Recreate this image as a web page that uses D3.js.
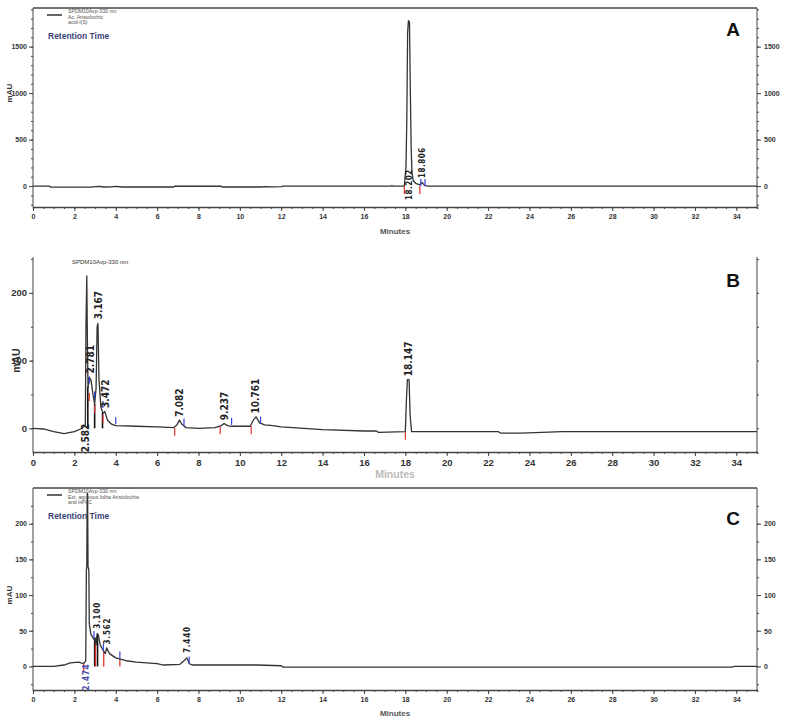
<!DOCTYPE html>
<html lang="en">
<head>
    <meta charset="UTF-8">
    <title>HPLC chromatograms</title>
    <script src="https://d3js.org/d3.v7.min.js"></script>
    <style>
        body { margin: 0; background: #fff; }
        svg { display: block; }
        .tk text { font-family: "Liberation Sans", Arial, sans-serif; font-weight: bold; fill: #333; }
        .tk path, .tk line { stroke: #444; }
        .pk { font-family: "Liberation Sans Narrow", "DejaVu Sans Condensed", "Liberation Sans", sans-serif; font-weight: bold; }
    </style>
</head>
<body>
<div id="chart"></div>
<script>
// --- data (minutes, mAU) ---
const xTicks = [0, 2, 4, 6, 8, 10, 12, 14, 16, 18, 20, 22, 24, 26, 28, 30, 32, 34];

const traceA = [[0,0],[0.8,0],[0.85,-12],[2.8,-12],[3.0,-5],[3.2,-3],[3.4,-10],[3.8,-8],[4.0,-3],[4.3,-10],
    [6.8,-10],[6.85,-2],[9.1,-2],[9.15,-10],[11.0,-10],[11.2,-5],[11.6,-8],[12.0,-5],[12.1,0],[17.3,0],[17.35,6],
    [17.4,0],[17.95,0],[18.03,200],[18.07,700],[18.11,1650],[18.15,1780],[18.2,1760],[18.24,1050],[18.28,420],
    [18.32,150],[18.38,60],[18.5,30],[18.7,12],[18.8,40],[18.86,25],[18.95,5],[19.1,0],[35,0]];
const yTicksA = [0, 500, 1000, 1500];
const peaksA = [
    {label: "18.202", t: 18.2, v: 0, pos: "across"},
    {label: "18.806", t: 18.8, v: 65, pos: "above"}
];
const startsA = [[17.95, 0], [18.7, 0]];
const endsA = [[18.75, 0], [18.95, 0]];

const traceB = [[0,0],[0.5,-1],[1,-5],[1.5,-8],[2.0,-5],[2.3,-1],[2.45,2],[2.53,4],[2.56,150],[2.6,225],[2.63,130],
    [2.66,60],[2.72,75],[2.8,72],[2.9,50],[2.98,36],[3.05,60],[3.1,150],[3.14,155],[3.19,72],[3.28,32],[3.38,22],
    [3.47,25],[3.6,12],[3.8,6],[4.0,4],[5,3],[6,2],[6.8,1],[6.95,5],[7.08,12],[7.2,6],[7.4,1],[8,0],[8.8,1],
    [9.1,4],[9.24,7],[9.4,4],[9.6,3],[10.5,3],[10.65,12],[10.78,17],[10.95,8],[11.2,5],[11.6,4],[12,2],[14,-2],
    [16,-4],[16.6,-4],[16.7,-6],[18.0,-5],[18.05,40],[18.1,72],[18.18,72],[18.23,20],[18.3,-5],[22.5,-5],
    [22.6,-7],[23.6,-7],[25.6,-5],[35,-5]];
const yTicksB = [0, 100, 200];
const peaksB = [
    {label: "2.582", t: 2.55, v: 0, pos: "below"},
    {label: "2.781", t: 2.76, v: 78, pos: "above"},
    {label: "3.167", t: 3.16, v: 158, pos: "above"},
    {label: "3.472", t: 3.5, v: 27, pos: "above"},
    {label: "7.082", t: 7.08, v: 14, pos: "above"},
    {label: "9.237", t: 9.24, v: 9, pos: "above"},
    {label: "10.761", t: 10.76, v: 19, pos: "above"},
    {label: "18.147", t: 18.14, v: 74, pos: "above"}
];
const dropsB = [[2.65, 62], [2.98, 36], [3.36, 23]];
const startsB = [[2.72, 52], [2.98, 34], [3.38, 20], [6.85, 1], [9.05, 3], [10.55, 3], [18.0, -5]];
const endsB = [[2.72, 66], [2.98, 44], [3.38, 30], [4.0, 6], [7.3, 4], [9.6, 5], [11.0, 7]];

const traceC = [[0,0],[1.0,0],[1.5,2],[1.8,5],[2.2,6],[2.45,4],[2.55,8],[2.58,135],[2.6,140],[2.62,242],[2.64,242],
    [2.66,140],[2.7,135],[2.72,60],[2.8,45],[2.95,38],[3.0,40],[3.05,30],[3.1,46],[3.16,44],[3.25,30],[3.4,22],
    [3.5,18],[3.56,26],[3.7,18],[4.0,12],[4.5,8],[5,6],[6,4],[6.3,2],[7.1,3],[7.3,8],[7.44,12],[7.55,4],[7.7,2],
    [10.8,2],[12,1],[12.1,-1],[20,-1],[33.8,-1],[33.9,0],[35,0]];
const yTicksC = [0, 50, 100, 150, 200];
const peaksC = [
    {label: "2.474", t: 2.55, v: 0, pos: "below"},
    {label: "3.100", t: 3.12, v: 50, pos: "above"},
    {label: "3.562", t: 3.6, v: 28, pos: "above"},
    {label: "7.440", t: 7.46, v: 16, pos: "above"}
];
const dropsC = [[2.98, 40], [3.12, 44]];
const redDropsC = [[3.02, 38], [3.42, 21], [4.2, 10]];
const startsC = [[2.45, 4]];
const endsC = [[2.95, 40], [3.4, 22], [4.2, 11], [7.55, 4]];

// --- drawing ---
const W = 790, H = 723;
const svg = d3.select("#chart").append("svg").attr("width", W).attr("height", H);

const x = d3.scaleLinear().domain([0, 35]).range([33, 757]);
const line = d3.line();
const fnt = "Liberation Sans, Arial, sans-serif";

function panel(cfg) {
    const y = d3.scaleLinear().domain(cfg.yDomain).range([cfg.bottom, cfg.top]);
    const g = svg.append("g");

    // frame
    g.append("line").attr("x1", 33).attr("x2", 33).attr("y1", cfg.top).attr("y2", cfg.bottom).attr("stroke", "#444");
    g.append("line").attr("x1", 757).attr("x2", 757).attr("y1", cfg.top).attr("y2", cfg.bottom).attr("stroke", "#444");
    if (cfg.topLine) {
        g.append("line").attr("x1", 33).attr("x2", 757).attr("y1", cfg.top).attr("y2", cfg.top).attr("stroke", "#444").attr("stroke-width", 1.5);
    }

    // x axis, major + minor
    g.append("g").attr("class", "tk").attr("transform", `translate(0,${cfg.bottom})`)
        .call(d3.axisBottom(x).tickValues(d3.range(0, 35.01, 0.5)).tickSize(2).tickFormat(""))
        .call(a => a.select(".domain").attr("stroke-width", 1.5));
    g.append("g").attr("class", "tk").attr("transform", `translate(0,${cfg.bottom})`)
        .call(d3.axisBottom(x).tickValues(xTicks).tickSize(4).tickPadding(3).tickFormat(d3.format("d")))
        .call(a => a.select(".domain").remove())
        .call(a => a.selectAll("text").attr("font-size", cfg.xFont));

    // y axes
    const minorY = d3.range(Math.ceil(cfg.yDomain[0] / cfg.minor) * cfg.minor, cfg.yDomain[1], cfg.minor);
    g.append("g").attr("class", "tk").attr("transform", "translate(33,0)")
        .call(d3.axisLeft(y).tickValues(minorY).tickSize(2).tickFormat(""))
        .call(a => a.select(".domain").remove());
    g.append("g").attr("class", "tk").attr("transform", "translate(33,0)")
        .call(d3.axisLeft(y).tickValues(cfg.yTicks).tickSize(4).tickPadding(2).tickFormat(d3.format("d")))
        .call(a => a.select(".domain").remove())
        .call(a => a.selectAll("text").attr("font-size", cfg.yFont));
    g.append("g").attr("class", "tk").attr("transform", "translate(757,0)")
        .call(d3.axisRight(y).tickValues(minorY).tickSize(2).tickFormat(""))
        .call(a => a.select(".domain").remove());
    if (cfg.rightLabels) {
        g.append("g").attr("class", "tk").attr("transform", "translate(757,0)")
            .call(d3.axisRight(y).tickValues(cfg.yTicks).tickSize(4).tickPadding(3).tickFormat(d3.format("d")))
            .call(a => a.select(".domain").remove())
            .call(a => a.selectAll("text").attr("font-size", cfg.yFont));
    }

    // axis titles
    g.append("text").attr("transform", `translate(${cfg.mauX},${y(cfg.mauAt)}) rotate(-90)`)
        .attr("text-anchor", "middle").attr("font-family", fnt)
        .attr("font-weight", "bold").attr("font-size", cfg.yFont + 1).attr("fill", "#333").text("mAU");
    g.append("text").attr("x", x(17.5)).attr("y", cfg.bottom + cfg.minutesDy)
        .attr("text-anchor", "middle").attr("font-family", fnt)
        .attr("font-weight", "bold").attr("font-size", cfg.xFont + 1).attr("fill", cfg.minutesColor).text("Minutes");

    // drop lines
    (cfg.drops || []).forEach(d => {
        g.append("line").attr("x1", x(d[0])).attr("x2", x(d[0])).attr("y1", y(0)).attr("y2", y(d[1]))
            .attr("stroke", "#111").attr("stroke-width", 1.6);
    });
    (cfg.redDrops || []).forEach(d => {
        g.append("line").attr("x1", x(d[0])).attr("x2", x(d[0])).attr("y1", y(0)).attr("y2", y(d[1]))
            .attr("stroke", "#e23030").attr("stroke-width", 1.3);
    });

    // trace
    g.append("path").datum(cfg.trace).attr("fill", "none").attr("stroke", "#333").attr("stroke-width", 1.3)
        .attr("stroke-linejoin", "round")
        .attr("d", line.x(d => x(d[0])).y(d => y(d[1])));

    // integration marks
    cfg.starts.forEach(d => {
        g.append("line").attr("x1", x(d[0])).attr("x2", x(d[0])).attr("y1", y(d[1])).attr("y2", y(d[1]) + 8)
            .attr("stroke", "#e23030").attr("stroke-width", 1.2);
    });
    cfg.ends.forEach(d => {
        g.append("line").attr("x1", x(d[0])).attr("x2", x(d[0])).attr("y1", y(d[1]) - 7).attr("y2", y(d[1]))
            .attr("stroke", "#3344dd").attr("stroke-width", 1.2);
    });

    // peak labels (rotated, reading upwards)
    cfg.peaks.forEach(p => {
        let py;
        if (p.pos === "above") py = y(p.v) - 2;
        else if (p.pos === "below") py = y(0) + 24;
        else py = y(0) + 14;
        g.append("text").attr("class", "pk")
            .attr("transform", `translate(${x(p.t)},${py}) rotate(-90)`)
            .attr("text-anchor", "start").attr("dy", "0.35em").attr("font-size", cfg.pkFont)
            .attr("fill", p.pos === "below" && cfg.blueBelow ? "#4a4aa8" : "#222")
            .attr("letter-spacing", cfg.pkSpacing)
            .text(p.label);
    });

    // panel letter
    g.append("text").attr("x", 733).attr("y", cfg.top + cfg.letterDy).attr("text-anchor", "middle")
        .attr("font-family", fnt).attr("font-weight", "bold")
        .attr("font-size", 19).attr("fill", "#111").text(cfg.letter);

    return {g: g, y: y};
}

function legend(g, top, lines) {
    g.append("line").attr("x1", 47).attr("x2", 62).attr("y1", top + 7).attr("y2", top + 7)
        .attr("stroke", "#111").attr("stroke-width", 1.3);
    lines.forEach((s, i) => {
        g.append("text").attr("x", 68).attr("y", top + 5 + i * 5.5)
            .attr("font-family", fnt).attr("font-size", 5.2)
            .attr("fill", "#555").text(s);
    });
    g.append("text").attr("x", 48).attr("y", top + 31).attr("font-family", fnt)
        .attr("font-weight", "bold").attr("font-size", 8.5).attr("fill", "#3a3f78").text("Retention Time");
}

const A = panel({
    top: 8, bottom: 207, yDomain: [-225, 1915], yTicks: yTicksA, minor: 100, topLine: true, rightLabels: true,
    trace: traceA, peaks: peaksA, starts: startsA, ends: endsA, xFont: 7, yFont: 7,
    mauX: 12, mauAt: 1000, minutesDy: 27, minutesColor: "#555", pkFont: 8, pkSpacing: 0.5, letter: "A", letterDy: 28
});
legend(A.g, 8, ["SPDM10Avp-330 nm", "Ac. Aristolochic", "acid-I(S)"]);

const B = panel({
    top: 257, bottom: 452, yDomain: [-35, 253], yTicks: yTicksB, minor: 50, topLine: false, rightLabels: false,
    trace: traceB, peaks: peaksB, drops: dropsB, starts: startsB, ends: endsB, xFont: 9.5, yFont: 9.5,
    mauX: 20, mauAt: 100, minutesDy: 26, minutesColor: "#bbb", pkFont: 10, pkSpacing: 0, letter: "B", letterDy: 30
});
B.g.append("text").attr("x", 72).attr("y", 264).attr("font-family", fnt)
    .attr("font-size", 6).attr("fill", "#333").text("SPDM10Avp-330 nm");

const C = panel({
    top: 488, bottom: 690, yDomain: [-33, 250], yTicks: yTicksC, minor: 25, topLine: true, rightLabels: true,
    trace: traceC, peaks: peaksC, drops: dropsC, redDrops: redDropsC, starts: startsC, ends: endsC,
    xFont: 7, yFont: 7, blueBelow: true,
    mauX: 12, mauAt: 100, minutesDy: 26, minutesColor: "#555", pkFont: 8, pkSpacing: 0.8, letter: "C", letterDy: 37
});
legend(C.g, 488, ["SPDM10Avp-330 nm", "Ext. aqueous folha Aristolochia", "and HPLC"]);
</script>
</body>
</html>
